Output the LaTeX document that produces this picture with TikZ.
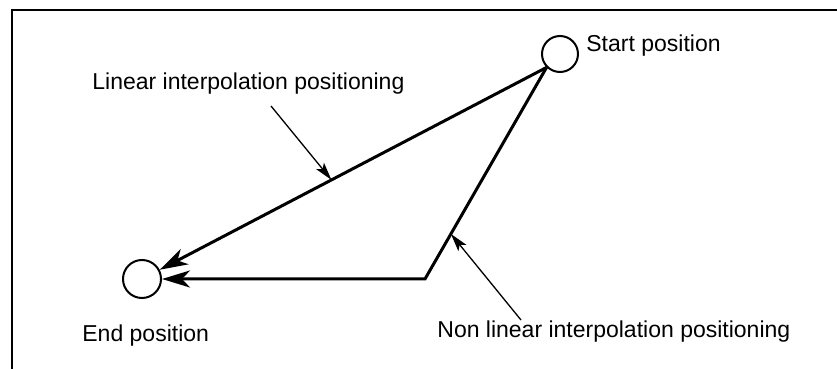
\documentclass[tikz,border=0pt]{standalone}
\usepackage{fontspec}
\setmainfont{Liberation Sans}
\usetikzlibrary{arrows.meta,positioning,calc}

\begin{document}
\begin{tikzpicture}[x=0.5pt,y=-0.5pt,
    station/.style={draw,circle,line width=1pt,inner sep=0pt},
    lbl/.style={inner sep=0pt,anchor=base west,font=\fontsize{11.5}{14}\selectfont},
    move/.style={-{Stealth[length=14pt,width=8.5pt,inset=4pt]},line width=1.5pt},
    pointer/.style={-{Stealth[length=9pt,width=5pt,inset=2pt]},line width=0.65pt}]
  \useasboundingbox (0,0) rectangle (837,369);
  \draw[line width=1.4pt] (12,369) -- (12,10) -- (837,10);
  % positions
  \node[station,minimum size=18pt] (start) at (560,54) {};
  \node[station,minimum size=19pt] (endpos) at (142,279) {};
  \node[lbl] (startlbl) at (586,52) {Start position};
  \node[lbl] (endlbl) at (82,342) {End position};
  \node[lbl] (linlbl) at (92,90) {Linear interpolation positioning};
  \node[lbl] (nonlbl) at (437,338) {Non linear interpolation positioning};
  % paths
  \coordinate (bend) at (425,279);
  \draw[move] (start.225) -- (endpos);
  \draw[move] (start.225) -- (bend) -- (endpos);
  % pointers
  \path (start.225) -- (endpos) coordinate[pos=0.556] (hitlin);
  \path (start.225) -- (bend) coordinate[pos=0.787] (hitnon);
  \coordinate (taillin) at (271,106);
  \coordinate (tailnon) at (521,320);
  \draw[pointer] (taillin) -- (hitlin);
  \draw[pointer] (tailnon) -- (hitnon);
\end{tikzpicture}
\end{document}
